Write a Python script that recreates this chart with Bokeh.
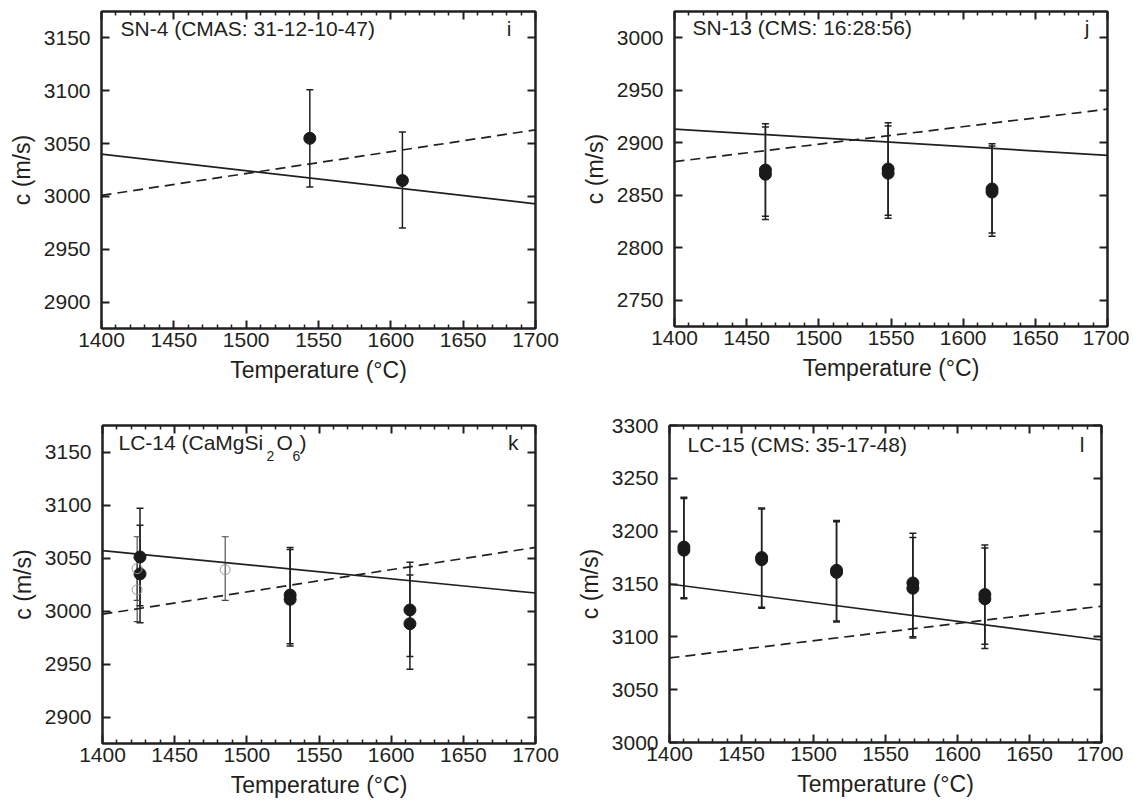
from bokeh.plotting import figure
from bokeh.models import (LinearAxis, FixedTicker, Range1d, Whisker, TeeHead,
                          ColumnDataSource, Label, CustomJSTickFormatter)
from bokeh.layouts import column, row
from bokeh.embed import file_html
from bokeh.resources import INLINE

# ---------------- data ----------------
x_ticks = [1400, 1450, 1500, 1550, 1600, 1650, 1700]
x_minor = [1410, 1420, 1430, 1440, 1460, 1470, 1480, 1490, 1510, 1520, 1530, 1540,
           1560, 1570, 1580, 1590, 1610, 1620, 1630, 1640, 1660, 1670, 1680, 1690]
fit_T = [1400, 1700]

# SN-4 (panel i)
sn4_T = [1544, 1608]
sn4_c = [3055, 3015]
sn4_hi = [3101, 3061]
sn4_lo = [3009, 2970]
sn4_solid = [3040, 2993]
sn4_dashed = [3001, 3063]
sn4_yticks = [2900, 2950, 3000, 3050, 3100, 3150]

# SN-13 (panel j)
sn13_T = [1463, 1463, 1548, 1548, 1620, 1620]
sn13_c = [2874, 2870, 2875, 2871, 2856, 2853]
sn13_hi = [2918, 2915, 2919, 2916, 2899, 2897]
sn13_lo = [2830, 2827, 2831, 2828, 2814, 2811]
sn13_solid = [2913, 2888]
sn13_dashed = [2882, 2932]
sn13_yticks = [2750, 2800, 2850, 2900, 2950, 3000]

# LC-14 (panel k)
lc14_T = [1426, 1426, 1530, 1530, 1613, 1613]
lc14_c = [3051, 3035, 3015, 3011, 3001, 2988]
lc14_hi = [3097, 3081, 3060, 3058, 3046, 3034]
lc14_lo = [3005, 2989, 2969, 2967, 2957, 2945]
lc14_open_T = [1424, 1424, 1485]
lc14_open_c = [3040, 3020, 3039]
lc14_open_hi = [3070, 3050, 3070]
lc14_open_lo = [3010, 2990, 3010]
lc14_solid = [3057, 3017]
lc14_dashed = [2997, 3060]
lc14_yticks = [2900, 2950, 3000, 3050, 3100, 3150]

# LC-15 (panel l)
lc15_T = [1410, 1410, 1464, 1464, 1516, 1516, 1569, 1569, 1619, 1619]
lc15_c = [3185, 3182, 3175, 3173, 3163, 3161, 3151, 3146, 3140, 3136]
lc15_hi = [3232, 3231, 3222, 3221, 3210, 3209, 3198, 3194, 3187, 3184]
lc15_lo = [3137, 3136, 3128, 3127, 3115, 3114, 3100, 3099, 3093, 3089]
lc15_solid = [3150, 3097]
lc15_dashed = [3080, 3129]
lc15_yticks = [3000, 3050, 3100, 3150, 3200, 3250, 3300]

# ---------------- style ----------------
INK = "#231f20"
FONT = "Liberation Sans"


def style_axis(ax, ticks, minor, labels=True):
    ax.ticker = FixedTicker(ticks=ticks, minor_ticks=minor)
    ax.axis_line_width = 2
    ax.axis_line_color = INK
    ax.major_tick_line_width = 2
    ax.major_tick_line_color = INK
    ax.minor_tick_line_width = 1.5
    ax.minor_tick_line_color = INK
    ax.major_tick_in = 8
    ax.major_tick_out = 0
    ax.minor_tick_in = 4
    ax.minor_tick_out = 0
    ax.major_label_text_font = FONT
    ax.major_label_text_font_size = "21px"
    ax.major_label_text_color = INK
    ax.axis_label_text_font = FONT
    ax.axis_label_text_font_size = "23px"
    ax.axis_label_text_font_style = "normal"
    ax.axis_label_text_color = INK
    if not labels:
        ax.formatter = CustomJSTickFormatter(code="return ''")
        ax.major_label_standoff = 0
        ax.major_label_text_font_size = "0px"


def make_panel(T, c, lo, hi, solid, dashed, yr, yticks, fw, fh, bl, br, bt, bb):
    p = figure(title=None, frame_width=fw, frame_height=fh,
               x_range=Range1d(1400, 1700), y_range=Range1d(*yr),
               output_backend="svg", toolbar_location=None,
               x_axis_location=None, y_axis_location=None,
               min_border_left=bl, min_border_right=br,
               min_border_top=bt, min_border_bottom=bb)
    p.xgrid.visible = False
    p.ygrid.visible = False
    p.outline_line_color = INK
    p.outline_line_width = 2
    p.background_fill_color = "white"
    p.border_fill_color = "white"

    bottom = LinearAxis(axis_label="Temperature (°C)")
    style_axis(bottom, x_ticks, x_minor)
    bottom.major_label_standoff = 4
    bottom.axis_label_standoff = 7
    p.add_layout(bottom, "below")

    top = LinearAxis()
    style_axis(top, x_ticks, x_minor, labels=False)
    p.add_layout(top, "above")

    left = LinearAxis(axis_label="c (m/s)")
    style_axis(left, yticks, [])
    left.major_label_standoff = 11
    left.axis_label_standoff = 6
    p.add_layout(left, "left")

    right = LinearAxis()
    style_axis(right, yticks, [], labels=False)
    p.add_layout(right, "right")

    p.line(fit_T, solid, line_color=INK, line_width=1.7)
    p.line(fit_T, dashed, line_color=INK, line_width=1.7, line_dash="10 6")

    src = ColumnDataSource(dict(T=T, c=c, lo=lo, hi=hi))
    w = Whisker(source=src, base="T", upper="hi", lower="lo", dimension="height",
                line_color=INK, line_width=1.5,
                upper_head=TeeHead(size=7, line_color=INK, line_width=1.5),
                lower_head=TeeHead(size=7, line_color=INK, line_width=1.5))
    p.add_layout(w)
    p.scatter(T, c, size=12, fill_color="#1a1a1a", line_color="#1a1a1a")
    return p


def add_text(p, text, x, y, xoff, yoff, size="21px", align="left"):
    p.add_layout(Label(x=x, y=y, x_offset=xoff, y_offset=yoff, text=text,
                       text_font=FONT, text_font_size=size, text_color=INK,
                       text_align=align, text_baseline="alphabetic"))


# panel i
p1 = make_panel(sn4_T, sn4_c, sn4_lo, sn4_hi, sn4_solid, sn4_dashed,
                (2875, 3175), sn4_yticks, 434, 317, 101, 25, 8, 65)
add_text(p1, "SN-4 (CMAS: 31-12-10-47)", 1400, 3175, 19, -17)
add_text(p1, "i", 1700, 3175, -24, -17, align="right")

# panel j
p2 = make_panel(sn13_T, sn13_c, sn13_lo, sn13_hi, sn13_solid, sn13_dashed,
                (2725, 3025), sn13_yticks, 433, 315, 114, 22, 11, 64)
add_text(p2, "SN-13 (CMS: 16:28:56)", 1400, 3025, 18, -16)
add_text(p2, "j", 1700, 3025, -18, -16, align="right")

# panel k
p3 = make_panel(lc14_T, lc14_c, lc14_lo, lc14_hi, lc14_solid, lc14_dashed,
                (2875, 3175), lc14_yticks, 433, 318, 102, 25, 32, 60)
src_open = ColumnDataSource(dict(T=lc14_open_T, c=lc14_open_c,
                                 lo=lc14_open_lo, hi=lc14_open_hi))
p3.add_layout(Whisker(source=src_open, base="T", upper="hi", lower="lo",
                      dimension="height", line_color="#444444", line_width=1.1,
                      upper_head=TeeHead(size=7, line_color="#444444", line_width=1.1),
                      lower_head=TeeHead(size=7, line_color="#444444", line_width=1.1)))
p3.scatter(lc14_open_T, lc14_open_c, size=10, fill_color=None,
           line_color="#9a9a9a", line_width=1)
add_text(p3, "LC-14 (CaMgSi", 1400, 3175, 16, -17)
add_text(p3, "2", 1400, 3175, 164, -30, size="14px")
add_text(p3, "O", 1400, 3175, 174, -17)
add_text(p3, "6", 1400, 3175, 190, -30, size="14px")
add_text(p3, ")", 1400, 3175, 197, -17)
add_text(p3, "k", 1700, 3175, -17, -17, align="right")

# panel l
p4 = make_panel(lc15_T, lc15_c, lc15_lo, lc15_hi, lc15_solid, lc15_dashed,
                (3000, 3300), lc15_yticks, 432, 317, 109, 22, 35, 58)
add_text(p4, "LC-15 (CMS: 35-17-48)", 1400, 3300, 18, -19)
add_text(p4, "l", 1700, 3300, -17, -19, align="right")

layout = column(row(p1, p2), row(p3, p4))
open("out.html", "w").write(file_html(layout, INLINE))
